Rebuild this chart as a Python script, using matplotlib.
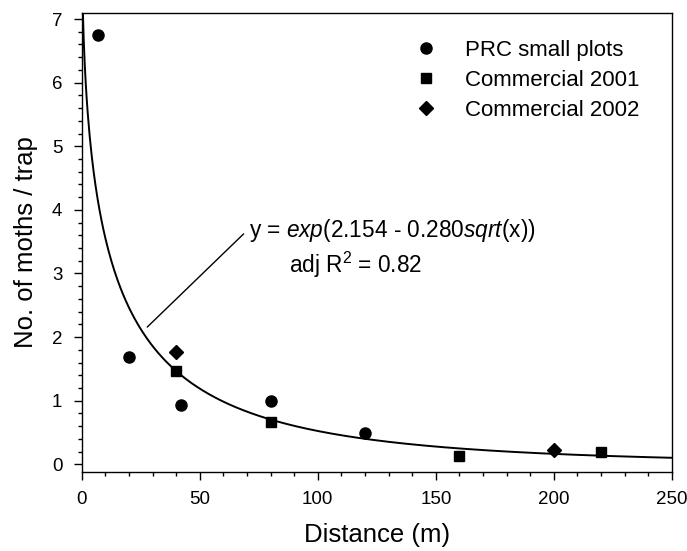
import numpy as np
import matplotlib
matplotlib.use("Agg")
import matplotlib.pyplot as plt
from matplotlib.ticker import MultipleLocator

plt.rcParams['font.family'] = ['Liberation Sans', 'DejaVu Sans']
plt.rcParams['mathtext.fontset'] = 'custom'
plt.rcParams['mathtext.rm'] = 'Liberation Sans'
plt.rcParams['mathtext.it'] = 'Liberation Sans:italic'

# data
prc_x = [7, 20, 42, 80, 120]
prc_y = [6.75, 1.68, 0.93, 1.0, 0.5]
c2001_x = [40, 80, 160, 220]
c2001_y = [1.46, 0.67, 0.13, 0.20]
c2002_x = [40, 200]
c2002_y = [1.77, 0.22]

# fitted model y = exp(a - b*sqrt(x))
fit_a = 2.154
fit_b = 0.280

fig = plt.figure(figsize=(6.87, 5.51), dpi=100)
ax = fig.add_axes([0.119, 0.144, 0.859, 0.833])

xs = np.linspace(0.01, 250, 600)
ax.plot(xs, np.exp(fit_a - fit_b * np.sqrt(xs)), color='black', lw=1.4, zorder=2)

ax.plot(prc_x, prc_y, 'o', color='black', ms=8, ls='none', label='PRC small plots', zorder=3)
ax.plot(c2001_x, c2001_y, 's', color='black', ms=7, ls='none', label='Commercial 2001', zorder=3)
ax.plot(c2002_x, c2002_y, 'D', color='black', ms=7.5, ls='none', label='Commercial 2002', zorder=3)

ax.set_xlim(0, 250)
ax.set_ylim(-0.115, 7.1)
ax.xaxis.set_major_locator(MultipleLocator(50))
ax.xaxis.set_minor_locator(MultipleLocator(10))
ax.yaxis.set_major_locator(MultipleLocator(1))
ax.yaxis.set_minor_locator(MultipleLocator(0.2))
ax.tick_params(which='major', direction='out', length=6, width=1, labelsize=13.5, pad=8)
ax.tick_params(which='minor', direction='out', length=3, width=1)
for s in ax.spines.values():
    s.set_linewidth(1)

ax.set_xlabel('Distance (m)', fontsize=18.5, labelpad=11)
ax.set_ylabel('No. of moths / trap', fontsize=18.5, labelpad=10)

# equation annotation
ax.plot([27.8, 68.5], [2.16, 3.62], color='black', lw=1)
ax.text(71, 3.67, r'y = $\it{exp}$(2.154 - 0.280$\it{sqrt}$(x))', fontsize=16.3, va='center', ha='left')
ax.text(88, 3.13, r'adj R$^2$ = 0.82', fontsize=16.3, va='center', ha='left')

leg = ax.legend(loc='upper left', bbox_to_anchor=(0.521, 0.984), frameon=False,
                fontsize=16, handletextpad=1.0, labelspacing=0.4, handlelength=1.5)

fig.savefig('out.png', dpi=100)
